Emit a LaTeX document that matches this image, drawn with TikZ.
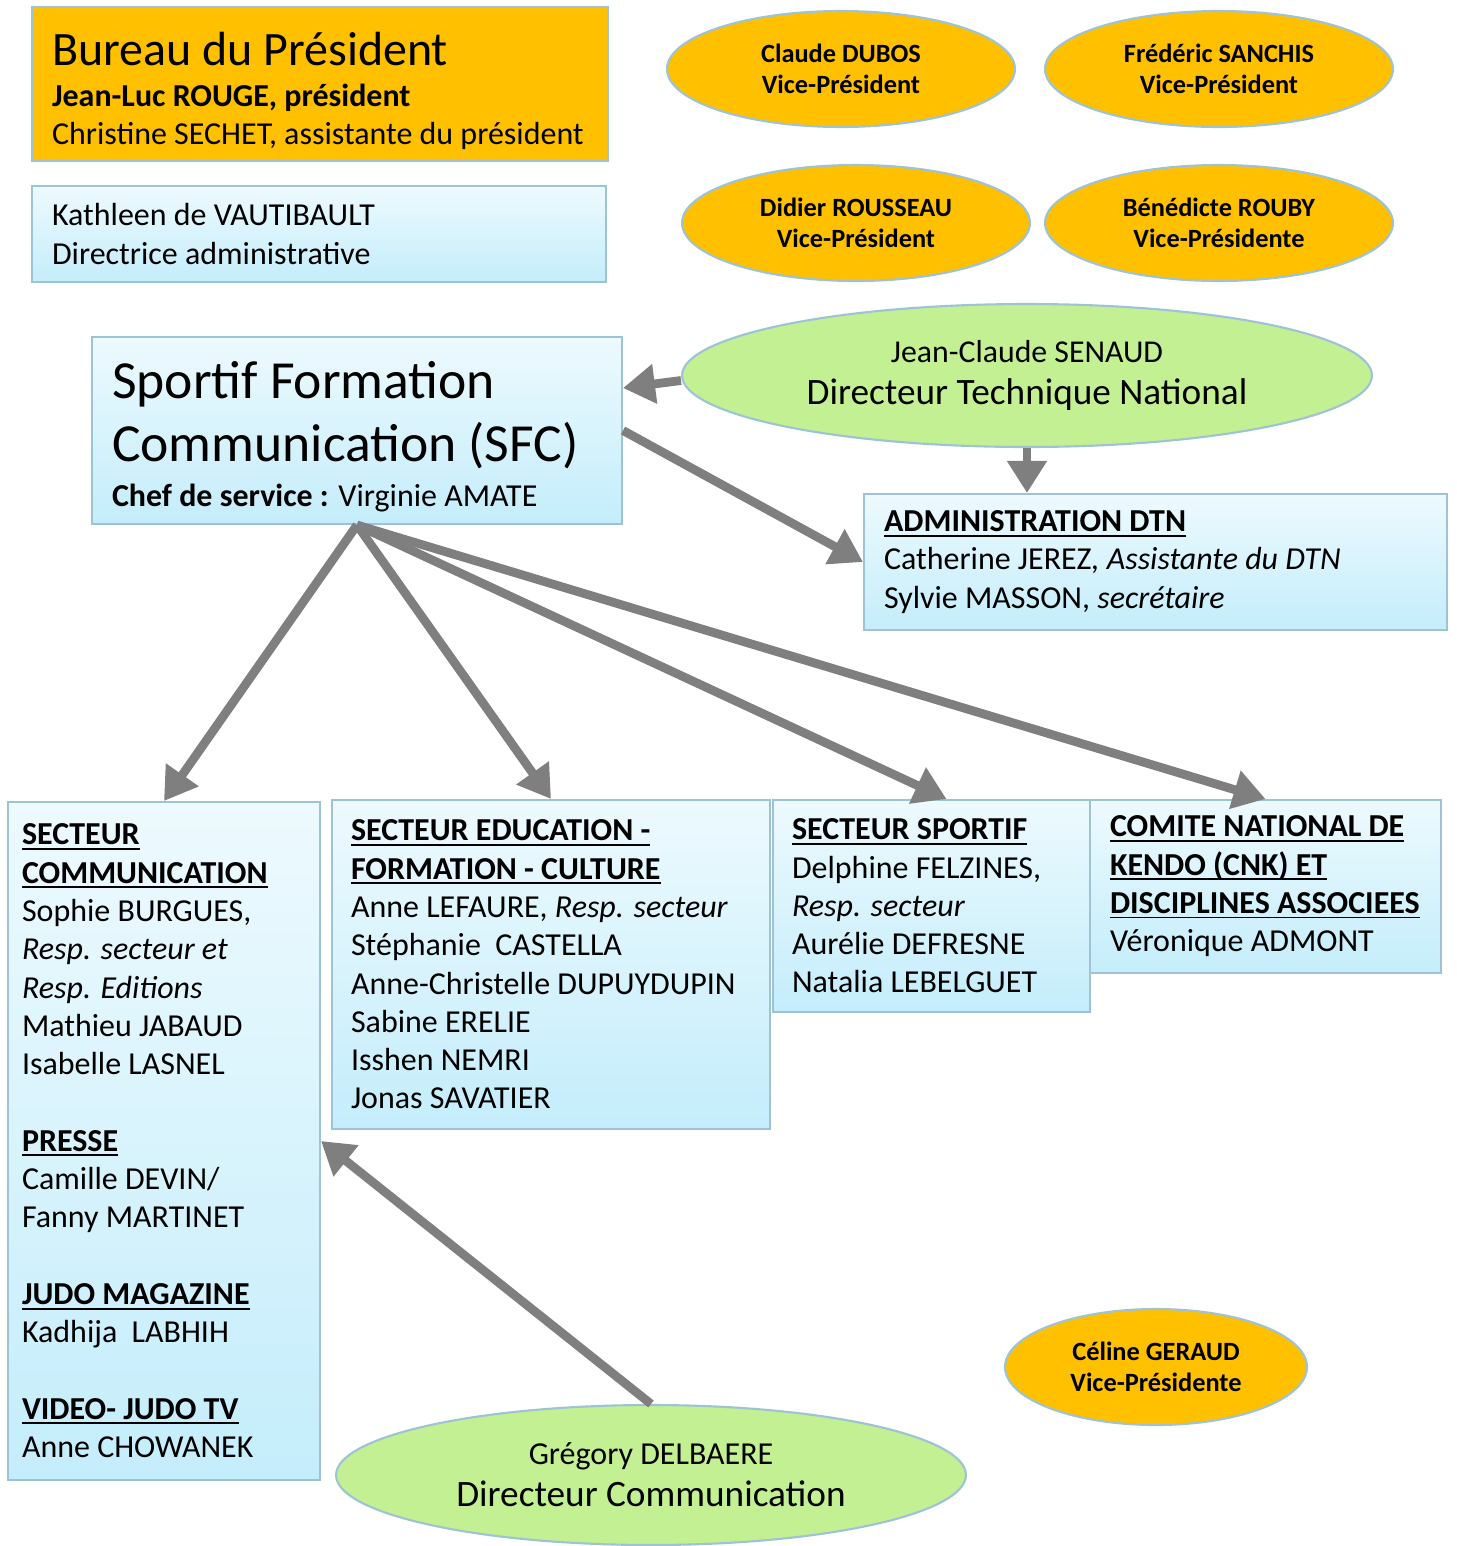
\documentclass[tikz,border=0pt]{standalone}
\usepackage{fontspec}
\setmainfont{Carlito}
\usetikzlibrary{shapes.geometric,arrows.meta}
\definecolor{vporange}{HTML}{FFC000}
\definecolor{dirgreen}{HTML}{C2F092}
\definecolor{edgeblue}{HTML}{9DC3D5}
\definecolor{boxtop}{HTML}{EDFAFE}
\definecolor{boxbot}{HTML}{C4EDFB}
\definecolor{arrowgray}{HTML}{7F7F7F}
\newcommand{\bodysize}{\fontsize{18.2}{21.8}\selectfont}
\newcommand{\hd}[1]{\leavevmode\setbox0\hbox{\textbf{#1}}\rlap{\rule[-2.8pt]{\wd0}{1.1pt}}\box0}
\begin{document}
\begin{tikzpicture}
	[x=0.02cm,y=-0.02cm,
	box/.style={draw=edgeblue,line width=1.2pt,top color=boxtop,bottom color=boxbot,inner xsep=0.4cm,inner ysep=0pt,align=flush left,font=\bodysize},
	vp/.style={ellipse,draw=edgeblue,line width=1.2pt,fill=vporange,inner sep=0pt,minimum width=6.96cm,minimum height=2.32cm,align=center,font=\fontsize{15}{18}\selectfont\bfseries},
	dir/.style={ellipse,draw=edgeblue,line width=1.2pt,fill=dirgreen,inner sep=0pt,align=center,font=\fontsize{21.2}{23.8}\selectfont},
	arr/.style={->,arrowgray,line width=5pt},
	>={Triangle[length=0.64cm,width=0.76cm]}]
	\useasboundingbox (0,0) rectangle (1457,1546);
	% bureau
	\node[box,name=bureau,fill=vporange,top color=vporange,bottom color=vporange,text width=10.72cm,minimum height=3.08cm]at(320,84)
		{\rule{0pt}{27pt}{\fontsize{27.3}{30}\selectfont Bureau du Président}\\[1pt]\textbf{Jean-Luc ROUGE, président}\\\mbox{Christine SECHET, assistante du président}};
	\node[box,name=dirad,text width=10.68cm,minimum height=1.92cm]at(319,234)
		{Kathleen de VAUTIBAULT\\Directrice administrative};
	% vice-presidents
	\node[vp,name=dubos]at(841,69){Claude DUBOS\\Vice-Président};
	\node[vp,name=sanchis]at(1219,69){Frédéric SANCHIS\\Vice-Président};
	\node[vp,name=rousseau]at(856,223){Didier ROUSSEAU\\Vice-Président};
	\node[vp,name=rouby]at(1219,223){Bénédicte ROUBY\\Vice-Présidente};
	\node[vp,name=geraud,minimum width=6.04cm]at(1156,1367){Céline GERAUD\\Vice-Présidente};
	% sfc and dtn
	\node[box,name=sfc,text width=9.8cm,minimum height=3.74cm,font=\fontsize{30.5}{35.7}\selectfont]at(357,430.5)
		{\rule{0pt}{28pt}Sportif Formation\\Communication (SFC)\\[-10pt]{\bodysize\textbf{Chef de service :} Virginie AMATE}};
	\node[dir,name=dtn,minimum width=13.8cm,minimum height=2.86cm]at(1027,375.5)
		{{\fontsize{18.1}{20}\selectfont Jean-Claude SENAUD}\\Directeur Technique National};
	\node[box,name=admin,text width=10.86cm,minimum height=2.72cm]at(1155.5,562)
		{\hd{ADMINISTRATION DTN}\\Catherine JEREZ\textit{, Assistante du DTN}\\Sylvie MASSON, \textit{secrétaire}};
	% secteurs
	\node[box,name=comm,inner xsep=0.28cm,text width=5.68cm,minimum height=13.56cm]at(164,1141)
		{\hd{SECTEUR}\\\hd{COMMUNICATION}\\Sophie BURGUES,\\\textit{Resp. secteur et}\\\textit{Resp. Editions}\\Mathieu JABAUD\\Isabelle LASNEL\\[\baselineskip]
		\hd{PRESSE}\\Camille DEVIN/\\Fanny MARTINET\\[\baselineskip]
		\hd{JUDO MAGAZINE}\\Kadhija\ \ LABHIH\\[\baselineskip]
		\hd{VIDEO- JUDO TV}\\Anne CHOWANEK};
	\node[box,name=edu,inner xsep=0.38cm,text width=8cm,minimum height=6.58cm]at(551,964.5)
		{\hd{SECTEUR EDUCATION -}\\\hd{FORMATION - CULTURE}\\Anne LEFAURE, \textit{Resp. secteur}\\Stéphanie\ \ CASTELLA\\Anne-Christelle DUPUYDUPIN\\Sabine ERELIE\\Isshen NEMRI\\Jonas SAVATIER};
	\node[box,name=sport,inner xsep=0.38cm,text width=5.58cm,minimum height=4.24cm]at(931.5,906)
		{\hd{SECTEUR SPORTIF}\\Delphine FELZINES,\\\textit{Resp. secteur}\\Aurélie DEFRESNE\\Natalia LEBELGUET};
	\node[box,name=cnk,text width=6.22cm,minimum height=3.46cm]at(1265.5,886.5)
		{\hd{COMITE NATIONAL DE}\\\hd{KENDO (CNK) ET}\\\hd{DISCIPLINES ASSOCIEES}\\Véronique ADMONT};
	\node[dir,name=dircom,minimum width=12.6cm,minimum height=2.8cm]at(651,1475)
		{{\fontsize{18.2}{20}\selectfont Grégory DELBAERE}\\Directeur Communication};
	% arrows
	\draw[arr]([yshift=-0.1cm]dtn.west) -- ([yshift=0.85cm]sfc.east);
	\draw[arr](sfc.east) -- (admin.west);
	\draw[arr](dtn.south) -- (dtn.south |- admin.north);
	\draw[arr](sfc.south) -- (comm.north);
	\draw[arr](sfc.south) -- (edu.north);
	\draw[arr](sfc.south) -- ([xshift=0.3cm]sport.north);
	\draw[arr](sfc.south) -- (cnk.north);
	\draw[arr](dircom.north) -- (comm.east);
\end{tikzpicture}
\end{document}
